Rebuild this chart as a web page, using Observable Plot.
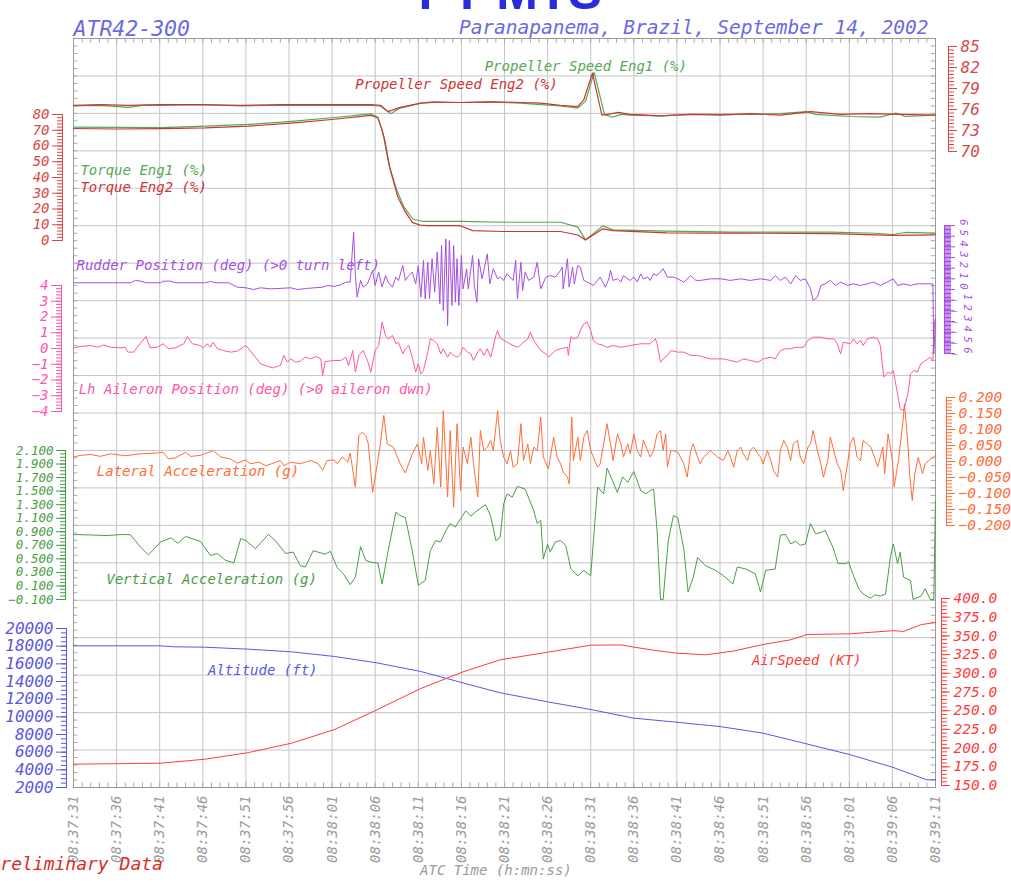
<!DOCTYPE html>
<html><head><meta charset="utf-8">
<script src="https://cdn.jsdelivr.net/npm/d3@7"></script>
<script src="https://cdn.jsdelivr.net/npm/@observablehq/plot@0.6"></script>
<style>
html,body{margin:0;padding:0;background:#fff;}
#chart{position:relative;width:1011px;height:883px;overflow:hidden;}
#chart svg{position:absolute;left:0;top:0;}
</style></head><body><div id="chart"></div>
<script>
// ---------- texts ----------
const titleMain = "PT-MTS";
const subLeft = "ATR42-300";
const subRight = "Paranapanema, Brazil, September 14, 2002";
const xTitle = "ATC Time (h:mn:ss)";
const prelimLabel = "Preliminary Data";
const timeLabels = ["08:37:31","08:37:36","08:37:41","08:37:46","08:37:51","08:37:56","08:38:01","08:38:06","08:38:11","08:38:16","08:38:21","08:38:26","08:38:31","08:38:36","08:38:41","08:38:46","08:38:51","08:38:56","08:39:01","08:39:06","08:39:11"];
const timeTicks = d3.range(0, 101, 5);

// ---------- series: [seconds after 08:37:31, value] ----------
const propSpeed1 = [[0,76.5],[3.1,76.6],[6.4,76.3],[8,76.6],[10.1,76.6],[14.7,76.7],[19.4,76.5],[24.0,76.6],[28.7,76.6],[34.5,76.6],[35.6,76.5],[36.8,75.4],[37.9,76.2],[40.3,76.9],[41.8,77.0],[44.9,77.0],[48.4,77.1],[51.9,76.9],[54.2,76.7],[56.5,76.5],[58.5,76.2],[59.4,77.2],[60.4,81.3],[61.6,75.3],[62.5,74.9],[63.5,75.3],[64.6,75.2],[68.1,75.1],[71.6,75.3],[75.1,75.3],[78.5,75.3],[82.0,75.4],[85.0,75.7],[86.1,75.3],[90.1,75.0],[93.6,74.9],[95.4,75.5],[96.5,75.0],[100,75.2]];
const propSpeed2 = [[0,76.6],[3.1,76.7],[6.4,76.6],[10.1,76.7],[14.7,76.7],[19.4,76.6],[24.0,76.7],[28.7,76.7],[34.5,76.7],[35.6,76.6],[36.5,75.7],[37.9,76.3],[40.3,76.9],[41.8,77.1],[44.9,77.0],[48.4,77.1],[51.9,77.0],[54.2,76.9],[56.5,76.6],[58.5,76.4],[59.2,77.4],[60.2,81.2],[61.3,75.2],[62.5,75.4],[63.2,75.6],[64.6,75.3],[68.1,75.1],[71.6,75.3],[75.1,75.2],[78.5,75.4],[82.0,75.2],[85.5,75.7],[89.0,75.3],[92.5,75.4],[95.9,75.3],[100,75.2]];
const torque1 = [[0,72.0],[5,71.8],[10.1,71.7],[15.3,72.6],[20.3,73.7],[25.3,75.6],[30.3,78.1],[34.5,80.4],[35.3,78.3],[35.9,68],[36.6,48],[37.5,32],[38.3,21.5],[39.4,13.5],[40.5,12.2],[45,12.1],[50,11.6],[56.5,11.6],[58.5,8.5],[59.4,0.4],[61.4,9.3],[62.6,6.8],[68.8,5.9],[76.5,5.3],[88,5.3],[93,4.6],[95,3.8],[96.5,5.1],[100,4.7]];
const torque2 = [[0,71.1],[5,70.8],[10.1,71.0],[15.3,71.5],[20.3,72.6],[25.3,74.5],[30.3,77.0],[34.5,79.4],[35.3,77.9],[35.7,72],[36.1,64],[36.7,46],[37.6,28],[38.4,19],[39.3,11.5],[40.2,9.8],[41,9.5],[44.8,9.5],[46.3,6.3],[49.8,5.7],[56.5,5.7],[58.5,3.5],[59.4,0.4],[61.4,7.4],[62.6,6.3],[68.8,4.9],[76.5,4.7],[88,4.4],[95,3.2],[100,3.6]];
const rudder = [[0,0.63],[3.1,0.63],[6.6,0.63],[7.2,0.85],[7.8,0.78],[8.4,0.63],[10.1,0.63],[10.4,0.78],[11.3,0.78],[11.8,0.63],[15.3,0.63],[15.9,0.75],[16.5,0.63],[18.0,0.63],[19.0,0.22],[20.0,0.16],[20.9,0.0],[21.7,0.16],[22.9,0.06],[25.2,0.16],[26.0,0.0],[26.9,0.09],[28.9,0.22],[29.5,0.38],[30.2,0.28],[31.0,0.44],[31.6,0.69],[32.1,0.69],[32.5,5.38],[32.7,1.31],[32.9,-0.72],[33.3,0.84],[33.6,0.22],[34.1,0.53],[34.7,1.78],[35.0,0.38],[35.4,1.63],[35.8,0.22],[36.2,1.31],[36.5,0.69],[37.0,0.22],[37.4,1.16],[37.7,0.84],[38.2,2.25],[38.5,0.84],[38.9,1.31],[39.3,1.63],[39.7,0.53],[40.0,2.25],[40.3,-0.72],[40.6,2.72],[40.8,-0.88],[41.1,2.56],[41.3,-0.88],[41.6,2.88],[41.9,-0.25],[42.2,3.5],[42.5,-1.34],[42.7,4.13],[42.9,-1.97],[43.2,4.75],[43.4,-3.38],[43.6,4.59],[43.9,-1.5],[44.1,4.13],[44.3,-1.19],[44.5,2.88],[44.7,-1.5],[45.0,3.19],[45.2,0.06],[45.6,1.94],[45.8,0.06],[46.3,3.19],[46.5,0.38],[46.8,-1.19],[47.0,2.88],[47.4,1.0],[48.0,3.34],[48.3,0.53],[48.7,1.94],[49.2,1.0],[49.5,1.16],[49.9,0.85],[50.3,1.47],[51.0,0.85],[51.3,2.72],[51.5,-0.87],[51.9,2.56],[52.1,-0.09],[52.4,1.63],[52.8,0.85],[53.4,1.16],[53.8,2.56],[54.2,0.06],[54.8,1.16],[55.3,1.31],[55.9,1.16],[56.5,1.78],[56.7,2.09],[56.8,0.06],[57.3,2.88],[57.5,0.22],[57.9,2.09],[58.1,0.53],[58.5,2.25],[58.8,2.09],[59.2,0.85],[59.6,0.69],[60.0,0.53],[60.3,0.38],[60.8,0.85],[61.1,1.16],[61.5,0.53],[61.7,0.22],[62.1,1.0],[62.3,1.78],[62.6,0.85],[63.1,1.0],[63.5,0.69],[63.8,1.31],[64.3,1.0],[64.6,0.85],[65.0,1.16],[65.4,0.69],[65.8,1.47],[66.1,1.0],[66.6,1.16],[66.9,0.85],[67.3,1.47],[67.7,1.31],[68.4,1.94],[68.9,1.16],[69.6,1.16],[70.1,1.0],[70.8,0.69],[71.6,1.31],[72.2,0.85],[72.7,0.85],[73.9,1.0],[75.1,1.0],[76.2,0.85],[77.4,1.0],[78.5,0.85],[79.7,1.0],[80.9,0.85],[81.4,1.31],[82.0,0.85],[82.6,1.16],[83.2,0.53],[83.8,1.31],[84.3,0.85],[84.9,1.0],[85.5,0.06],[85.8,-1.03],[86.3,-0.72],[86.7,0.38],[87.2,0.53],[87.8,0.85],[88.4,0.38],[89.0,0.69],[89.8,0.38],[90.5,0.53],[91.3,0.38],[92.1,0.53],[92.8,0.69],[93.6,0.38],[94.4,0.69],[95.1,1.0],[95.6,0.38],[96.3,0.53],[97.1,0.38],[97.9,0.53],[98.8,0.53],[99.7,0.53],[99.8,-6.0],[100,-2.7]];
const aileron = [[0,0.04],[0.8,0.13],[2.0,0.19],[2.8,0.08],[3.5,0.23],[4.3,0.08],[5.5,0.04],[6.0,0.08],[6.3,-0.23],[7.0,-0.23],[7.4,0.08],[8.4,0.76],[8.9,0.04],[9.7,0.08],[10.4,0.30],[11.0,-0.02],[11.8,0.04],[12.8,0.30],[13.2,0.76],[13.8,0.30],[14.7,0.19],[15.1,0.04],[15.5,0.30],[15.9,0.08],[16.2,0.40],[16.7,-0.02],[17.4,-0.13],[18.2,-0.23],[19.0,-0.17],[20.0,0.19],[20.5,-0.13],[21.1,-0.55],[21.7,-0.97],[22.3,-1.08],[23.1,-1.23],[24.0,-1.08],[24.4,-0.44],[24.8,-0.87],[25.2,-0.66],[25.8,-0.87],[26.3,-0.80],[26.9,-0.55],[27.5,-0.66],[28.1,-0.51],[28.7,-0.66],[28.9,-1.71],[29.2,-0.83],[30.2,-0.76],[31.0,-0.76],[31.6,-0.55],[31.9,-1.08],[32.4,-0.13],[32.7,-1.50],[33.1,-0.44],[33.6,-0.13],[34.1,-0.76],[34.5,-1.50],[35.0,-0.13],[35.4,0.19],[35.8,1.67],[36.2,0.83],[36.5,0.61],[37.0,0.83],[37.4,0.30],[37.7,0.40],[38.2,-0.34],[38.5,-0.02],[38.9,0.19],[39.3,-0.55],[39.7,-1.50],[40.0,-0.97],[40.3,-1.61],[40.6,-1.40],[41.1,-0.23],[41.4,0.61],[41.8,0.51],[42.2,0.30],[42.6,-0.34],[42.9,-0.02],[43.4,-0.55],[43.7,-0.23],[44.1,-0.44],[44.5,-0.55],[44.9,-0.34],[45.2,0.08],[45.7,-0.23],[46.1,-0.34],[46.4,-0.76],[46.9,-0.23],[47.2,-0.02],[47.6,-0.44],[48.0,-0.02],[48.4,-0.55],[49.0,0.83],[49.2,1.14],[49.5,0.65],[50.3,0.40],[51.0,0.19],[51.6,0.08],[52.2,0.40],[52.7,0.61],[53.0,1.04],[53.4,0.51],[53.8,0.19],[54.2,-0.13],[54.8,-0.34],[55.1,-0.55],[55.9,-0.13],[56.5,-0.02],[57.3,0.08],[57.4,-0.44],[57.7,0.76],[58.0,0.61],[58.5,0.72],[58.8,1.14],[59.2,1.57],[59.6,1.67],[60.0,1.14],[60.3,0.51],[60.8,0.30],[61.5,0.19],[61.9,0.08],[62.6,0.19],[63.5,0.08],[64.6,0.19],[65.8,0.30],[66.9,0.30],[67.5,0.61],[67.7,0.30],[68.1,-0.87],[68.4,-0.66],[68.9,-0.44],[69.3,-0.13],[70.1,-0.23],[70.8,-0.23],[71.6,-0.44],[72.4,-0.44],[73.1,-0.55],[73.9,-0.66],[74.7,-0.66],[75.4,-0.66],[76.2,-0.76],[77.0,-0.87],[77.7,-0.66],[78.5,-0.76],[79.4,-0.87],[80.0,-0.66],[80.9,-0.55],[81.4,-0.66],[82.0,-0.13],[82.6,-0.02],[83.2,-0.02],[83.8,0.08],[84.7,0.08],[85.2,0.51],[85.8,0.72],[86.7,0.72],[87.5,0.61],[88.2,0.61],[88.6,0.30],[89.0,-0.34],[89.3,0.40],[90.1,0.30],[90.5,0.61],[90.9,0.30],[91.3,0.51],[91.6,0.19],[92.1,0.61],[92.8,0.72],[93.3,0.61],[93.6,0.19],[94.0,-1.82],[94.5,-1.50],[94.8,-1.61],[95.1,-1.40],[95.6,-2.88],[95.9,-3.83],[96.3,-3.94],[96.8,-2.88],[97.1,-1.61],[97.5,-1.40],[97.9,-1.50],[98.3,-0.97],[99.1,-0.66],[99.4,-0.55],[99.7,-0.76],[99.8,1.14],[100,1.99]];
const latAcc = [[0,0.014],[0.8,0.019],[2.0,0.022],[3.1,0.016],[4.3,0.024],[6.0,0.018],[7.8,0.024],[9.5,0.026],[10.4,0.029],[11.0,0.008],[11.8,0.011],[13.0,0.029],[13.6,0.016],[14.7,0.019],[16.2,0.034],[17.1,0.014],[18.2,0.008],[19.0,-0.005],[20.0,0.005],[20.5,-0.007],[21.5,-0.002],[22.3,-0.013],[23.2,-0.005],[24.0,0.003],[24.4,-0.013],[25.2,-0.002],[26.3,-0.007],[27.5,0.003],[28.4,-0.007],[28.9,-0.028],[29.4,0.003],[30.2,0.005],[30.6,-0.007],[31.2,0.014],[31.8,-0.002],[32.1,0.026],[32.7,-0.080],[33.1,0.081],[33.5,0.092],[33.9,0.081],[34.2,0.055],[34.7,-0.096],[35.0,-0.049],[35.6,0.055],[36.0,0.144],[36.4,0.055],[37.1,0.045],[37.9,-0.007],[38.5,-0.036],[39.3,0.024],[39.9,0.055],[40.4,-0.007],[40.6,0.076],[41.1,-0.028],[41.4,0.034],[41.8,-0.070],[42.2,0.107],[42.6,-0.080],[42.9,0.159],[43.4,-0.111],[43.7,0.097],[44.1,-0.143],[44.5,0.118],[44.9,-0.091],[45.2,0.045],[45.7,-0.007],[46.1,0.076],[46.4,-0.007],[46.9,-0.111],[47.2,0.097],[47.6,0.034],[48.0,0.045],[48.4,0.066],[48.7,0.034],[49.2,0.159],[49.5,0.066],[49.9,0.014],[50.3,-0.007],[50.7,0.034],[51.0,-0.018],[51.5,-0.007],[51.9,0.118],[52.2,0.003],[52.7,0.055],[53.0,-0.007],[53.4,0.045],[53.8,0.034],[54.2,0.139],[54.5,0.014],[55.1,-0.023],[55.7,0.076],[56.1,0.014],[56.5,-0.007],[56.8,-0.033],[57.3,-0.049],[57.5,-0.070],[57.8,0.139],[58.0,0.003],[58.5,0.076],[58.8,0.003],[59.2,0.076],[59.6,0.097],[60.0,0.034],[60.3,0.014],[60.8,-0.018],[61.1,-0.007],[61.5,0.055],[61.9,0.118],[62.3,0.055],[62.6,0.003],[63.1,0.086],[63.5,0.055],[63.8,0.014],[64.3,0.055],[64.6,0.024],[65.0,0.086],[65.4,0.034],[65.8,0.014],[66.1,0.066],[66.6,0.034],[66.9,0.014],[67.3,0.034],[67.7,0.086],[68.1,0.097],[68.4,0.034],[68.7,0.086],[68.9,-0.018],[69.3,0.034],[69.6,0.034],[70.1,0.029],[70.4,0.014],[70.8,-0.007],[71.2,-0.049],[71.6,0.034],[71.9,0.055],[72.4,0.014],[72.7,-0.007],[73.1,0.014],[73.5,0.024],[73.9,0.034],[74.7,0.014],[75.4,0.003],[75.9,0.034],[76.2,0.014],[76.6,-0.018],[77.0,0.034],[77.4,0.045],[77.7,0.024],[78.2,0.003],[78.5,0.034],[78.9,0.045],[79.4,0.024],[79.7,0.014],[80.0,-0.007],[80.5,0.034],[80.9,0.003],[81.2,-0.028],[81.7,-0.049],[82.0,0.034],[82.4,0.066],[82.8,0.045],[83.2,0.003],[83.5,0.055],[84.0,0.066],[84.3,0.014],[84.7,-0.007],[85.2,0.045],[85.5,0.055],[85.8,0.097],[86.3,0.034],[86.7,-0.007],[87.0,-0.049],[87.5,0.003],[87.8,0.076],[88.2,0.034],[88.6,-0.007],[89.0,-0.028],[89.3,-0.091],[89.8,-0.007],[90.1,0.055],[90.5,0.076],[90.9,0.014],[91.3,0.003],[91.6,0.066],[92.1,0.055],[92.5,0.045],[93.3,-0.016],[93.9,0.045],[94.1,-0.038],[94.5,0.086],[95.0,0.003],[95.2,-0.080],[95.7,0.003],[96.2,0.118],[96.4,0.180],[96.8,0.055],[97.0,-0.038],[97.3,-0.122],[97.6,-0.038],[98.0,0.013],[98.5,-0.038],[98.8,-0.007],[99.2,0.003],[99.7,0.013],[100,0.019]];
const vertAcc = [[0,0.86],[3.9,0.845],[5.7,0.86],[6.6,0.855],[7.8,0.67],[8.7,0.56],[10.1,0.75],[11.3,0.81],[12.1,0.73],[13.0,0.83],[14.7,0.76],[15.9,0.55],[16.7,0.58],[17.6,0.48],[18.6,0.44],[19.4,0.80],[20.0,0.77],[21.1,0.65],[22.6,0.86],[23.4,0.77],[24.6,0.58],[25.5,0.60],[26.3,0.40],[26.9,0.38],[27.8,0.62],[29.2,0.57],[29.8,0.61],[30.6,0.37],[31.3,0.28],[32.1,0.12],[32.7,0.23],[33.3,0.68],[33.9,0.48],[34.5,0.45],[35.3,0.44],[35.8,0.13],[36.5,0.62],[37.4,1.19],[37.9,1.14],[38.5,1.11],[39.3,0.62],[40.0,0.11],[40.8,0.18],[41.4,0.62],[42.0,0.77],[42.6,0.75],[43.2,0.92],[43.7,1.02],[44.3,0.97],[44.9,1.09],[45.5,1.21],[46.1,1.13],[46.6,1.19],[47.8,1.30],[48.4,1.13],[49.0,0.77],[49.5,0.82],[49.9,1.31],[50.3,1.46],[50.9,1.41],[51.5,1.57],[52.4,1.53],[53.4,1.21],[53.8,1.02],[54.2,1.07],[54.5,0.50],[55.0,0.72],[55.3,0.60],[55.9,0.75],[56.5,0.77],[57.1,0.70],[57.7,0.35],[58.5,0.25],[59.2,0.33],[60.0,0.25],[60.8,1.56],[61.5,1.46],[61.9,1.84],[62.5,1.66],[63.1,1.48],[63.7,1.71],[64.3,1.63],[65.0,1.79],[65.8,1.51],[66.4,1.46],[66.9,1.51],[67.3,1.53],[67.7,0.92],[68.1,-0.1],[68.4,-0.1],[69.0,0.77],[69.6,1.14],[70.1,1.11],[70.8,0.65],[71.3,0.01],[71.9,0.23],[72.4,0.52],[73.3,0.40],[74.5,0.33],[75.6,0.23],[76.5,0.13],[77.0,0.38],[78.0,0.35],[79.1,0.28],[79.7,0.01],[80.3,0.33],[81.4,0.35],[82.0,0.85],[82.6,0.86],[83.2,0.72],[83.8,0.76],[84.3,0.70],[84.9,0.72],[85.5,1.02],[86.1,0.87],[86.7,0.89],[87.2,0.92],[88.1,0.67],[88.7,0.43],[89.6,0.43],[89.9,0.46],[90.4,0.28],[91.1,0.06],[91.6,-0.02],[92.5,-0.08],[93.0,-0.03],[93.6,-0.05],[94.2,-0.02],[94.8,0.55],[95.1,0.72],[95.6,0.43],[95.9,0.60],[96.3,0.23],[97.1,0.18],[97.4,-0.1],[98.3,-0.05],[98.8,0.06],[99.4,-0.1],[99.8,-0.1],[100,1.36]];
const altitude = [[0,18040],[10.1,18040],[11.6,17930],[15.3,17880],[20.3,17660],[25.3,17360],[30.3,16830],[35.2,16110],[40.3,15130],[45.3,13810],[49.5,12720],[55,11700],[60,10830],[65,9850],[70,9390],[75,8900],[80,8150],[85,6950],[90,5740],[95,4300],[99,2870],[100,2870]];
const airspeed = [[0,178.5],[10.1,179.8],[15.3,185.2],[20.3,194],[25.3,206.6],[30.3,224.9],[35.2,251.2],[40.3,279.7],[45.3,302.4],[49.5,318],[55,328.2],[60,337.6],[63.5,338],[65,335],[67.5,330.5],[70,326.9],[73.3,324.7],[76.5,329.6],[80,338.5],[83.2,344.8],[85.1,351.9],[90.1,352.8],[95.1,357],[96.3,356],[98.3,365],[100,368]];

// ---------- axis ticks ----------
const propTicks = [70, 73, 76, 79, 82, 85];
const torqueTicks = d3.range(0, 81, 10);
const rudderTicks = d3.range(-6, 7);
const aileronTicks = d3.range(-4, 5);
const latTicks = d3.range(-4, 5).map(d => d / 20);
const vertTicks = d3.range(0, 12).map(d => (-1 + 2 * d) / 10);
const altTicks = d3.range(2000, 20001, 2000);
const airTicks = d3.range(150, 401, 25);

// ---------- layout ----------
const W = 1011, H = 883, X0 = 73, X1 = 935;
const FONT = "'DejaVu Sans Mono', 'Liberation Mono', monospace";
const STYLE = {fontFamily: FONT, fontStyle: "italic", fontSize: "15px", background: "transparent", overflow: "visible"};
const C = {
  green: "#55a855", red: "#cc3535", redAxis: "#d84848", purple: "#a64ee0",
  pink: "#ff55aa", orange: "#ff6d38", vgreen: "#489e48", blue: "#5858e2", air: "#ff3c3c"
};

function panel({top, bottom, side, spine, domain, major, minor, fmt, color, fontSize = 15, tickLen = 9, minorLen = 5, pad = 3, noLabels = false, marks}) {
  const m = side === "left" ? {marginLeft: spine, marginRight: W - X1} : {marginLeft: X0, marginRight: W - spine};
  return Plot.plot({
    width: W, height: H, ...m, marginTop: top, marginBottom: H - bottom,
    x: {domain: [0, 100], range: [X0, X1], axis: null},
    y: {domain, axis: null},
    style: STYLE,
    marks: [
      Plot.frame({anchor: side, stroke: color}),
      Plot.axisY({anchor: side, ticks: minor, tickSize: minorLen, stroke: color, fill: "none", tickFormat: () => "", label: null}),
      noLabels
        ? Plot.axisY({anchor: side, ticks: major, tickSize: tickLen, stroke: color, fill: "none", tickFormat: () => "", label: null})
        : Plot.axisY({anchor: side, ticks: major, tickSize: tickLen, tickPadding: pad, tickFormat: fmt, color, fontSize, label: null}),
      ...marks
    ]
  });
}
const lbl = (text, x, y, fill) => Plot.text([text], {x, y, textAnchor: "start", fill, fontSize: 14});

const base = Plot.plot({
  width: W, height: H, marginLeft: X0, marginRight: W - X1, marginTop: 38, marginBottom: H - 787,
  x: {domain: [0, 100], axis: null},
  y: {domain: [0, 20], axis: null},
  style: STYLE,
  marks: [
    Plot.gridX({ticks: timeTicks, stroke: "#c6c6c6", strokeOpacity: 1}),
    Plot.gridY({ticks: d3.range(0, 21), stroke: "#c6c6c6", strokeOpacity: 1}),
    Plot.ruleX(d3.range(0, 101), {y1: 20, y2: 19.87, stroke: "#aaa"}),
    Plot.ruleX(d3.range(0, 101), {y1: 0, y2: 0.12, stroke: "#aaa"}),
    Plot.ruleY(d3.range(0, 101).map(d => d / 5), {x1: 0, x2: 0.5, stroke: "#aaa"}),
    Plot.ruleY(d3.range(0, 101).map(d => d / 5), {x1: 99.5, x2: 100, stroke: "#aaa"}),
    Plot.frame({stroke: "#999"}),
    Plot.axisX({ticks: timeTicks, tickFormat: d => timeLabels[Math.round(d / 5)], tickRotate: -90, tickSize: 0, tickPadding: 8, color: "#9a9a9a", fontSize: 14, label: null}),
    Plot.text([xTitle], {x: 49, frameAnchor: "bottom", dy: 87, fill: "#9a9a9a", fontSize: 14}),
    Plot.text([prelimLabel], {frameAnchor: "bottom-left", dx: -84, dy: 82, textAnchor: "start", fill: "#dd2a2a", fontSize: 18}),
    Plot.text([titleMain], {frameAnchor: "top-left", dx: 345, dy: -30, textAnchor: "start", lineAnchor: "bottom", fontSize: 50, fontWeight: "bold", fontStyle: "normal", fontFamily: "'Liberation Sans', Arial, sans-serif", fill: "#2b2bde"}),
    Plot.text([subLeft], {frameAnchor: "top-left", dy: -18, textAnchor: "start", fontSize: 21.5, fill: "#6a6ae2"}),
    Plot.text([subRight], {frameAnchor: "top-right", dx: -7, dy: -18, textAnchor: "end", fontSize: 19.5, fill: "#6a6ae2"})
  ]
});

const altPanel = panel({top: 628, bottom: 787, side: "left", spine: 66, domain: [2000, 20000], major: altTicks, minor: d3.range(2000, 20001, 500), fmt: d => String(d), color: C.blue, fontSize: 16, tickLen: 10,
  marks: [Plot.line(altitude, {stroke: C.blue, strokeWidth: 1}), lbl("Altitude (ft)", 15.6, 15245, C.blue)]});
const airPanel = panel({top: 598, bottom: 785, side: "right", spine: 941, domain: [150, 400], major: airTicks, minor: d3.range(150, 401, 5), fmt: d3.format(".1f"), color: C.air, fontSize: 14.5, tickLen: 8, pad: 4,
  marks: [Plot.line(airspeed, {stroke: C.air, strokeWidth: 1}), lbl("AirSpeed (KT)", 78.7, 317, C.air)]});
const vertPanel = panel({top: 450, bottom: 599, side: "left", spine: 65, domain: [-0.1, 2.1], major: vertTicks, minor: d3.range(-2, 43).map(d => d / 20), fmt: d3.format(".3f"), color: C.vgreen, fontSize: 12.5, tickLen: 9,
  marks: [Plot.line(vertAcc, {stroke: C.vgreen, strokeWidth: 1}), lbl("Vertical Acceleration (g)", 3.8, 0.195, C.vgreen)]});
const latPanel = panel({top: 397, bottom: 525, side: "right", spine: 946, domain: [-0.2, 0.2], major: latTicks, minor: d3.range(-20, 21).map(d => d / 100), fmt: d3.format(".3f"), color: C.orange, fontSize: 14.5, tickLen: 8, pad: 4,
  marks: [Plot.line(latAcc, {stroke: C.orange, strokeWidth: 1}), lbl("Lateral Acceleration (g)", 2.7, -0.031, C.orange)]});
const ailPanel = panel({top: 285, bottom: 411, side: "left", spine: 61, domain: [-4, 4], major: aileronTicks, minor: d3.range(-20, 21).map(d => d / 5), fmt: d3.format("d"), color: C.pink, fontSize: 14, tickLen: 10,
  marks: [Plot.line(aileron, {stroke: C.pink, strokeWidth: 1}), lbl("Lh Aileron Position (deg) (>0 aileron dwn)", 0.6, -2.6, C.pink)]});
const rudPanel = panel({top: 225, bottom: 353, side: "right", spine: 944, domain: [-6, 6], major: rudderTicks, minor: d3.range(-48, 49).map(d => d / 8), color: C.purple, tickLen: 10, minorLen: 6, noLabels: true,
  marks: [
    Plot.line(rudder, {stroke: C.purple, strokeWidth: 1}),
    lbl("Rudder Position (deg) (>0 turn left)", 0.35, 2.25, C.purple),
    Plot.text(rudderTicks.filter(d => d >= 0), {y: d => d, text: d => String(d), frameAnchor: "right", dx: 19, rotate: 90, fill: C.purple, fontSize: 10.5}),
    Plot.text(rudderTicks.filter(d => d < 0), {y: d => d, text: d => String(-d), frameAnchor: "right", dx: 23, rotate: 90, fill: C.purple, fontSize: 10.5}),
    Plot.text(rudderTicks.filter(d => d < 0), {y: d => d, text: () => "–", frameAnchor: "right", dx: 13, fill: C.purple, fontSize: 10})
  ]});
const tqPanel = panel({top: 114, bottom: 240, side: "left", spine: 62, domain: [0, 80], major: torqueTicks, minor: d3.range(0, 81, 2), fmt: d => String(d), color: C.redAxis, fontSize: 14, tickLen: 10,
  marks: [
    Plot.line(torque1, {stroke: C.green, strokeWidth: 1.2}),
    Plot.line(torque2, {stroke: C.red, strokeWidth: 1.2}),
    lbl("Torque Eng1 (%)", 0.8, 44.4, C.green),
    lbl("Torque Eng2 (%)", 0.8, 33.5, C.red)
  ]});
const propPanel = panel({top: 46, bottom: 151, side: "right", spine: 948, domain: [70, 85], major: propTicks, minor: d3.range(140, 171).map(d => d / 2), fmt: d => String(d), color: C.redAxis, fontSize: 16, tickLen: 8, pad: 4,
  marks: [
    Plot.line(propSpeed1, {stroke: C.green, strokeWidth: 1.2}),
    Plot.line(propSpeed2, {stroke: C.red, strokeWidth: 1.2}),
    lbl("Propeller Speed Eng1 (%)", 47.7, 82.1, C.green),
    lbl("Propeller Speed Eng2 (%)", 32.7, 79.6, C.red)
  ]});

const chart = document.getElementById("chart");
for (const p of [base, altPanel, airPanel, vertPanel, latPanel, ailPanel, rudPanel, tqPanel, propPanel]) chart.appendChild(p);
</script></body></html>
